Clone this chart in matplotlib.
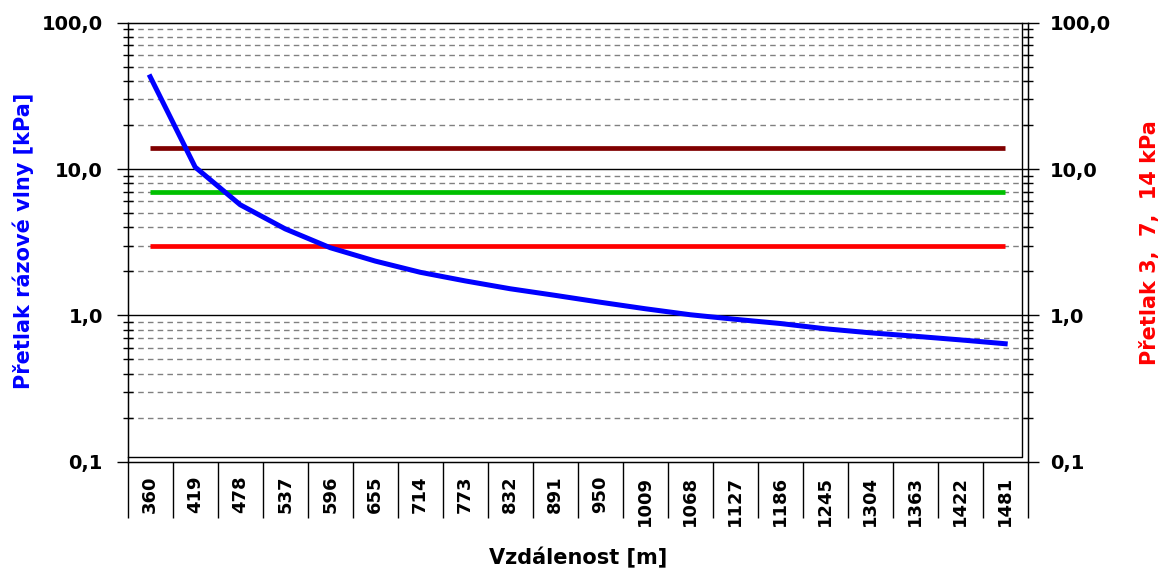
import numpy as np
import matplotlib.pyplot as plt
from matplotlib.lines import Line2D
from matplotlib.ticker import FixedLocator, FixedFormatter, NullFormatter

plt.rcParams['font.family'] = ['DejaVu Sans']
plt.rcParams['font.weight'] = 'bold'

# data
vzdalenost = ['360', '419', '478', '537', '596', '655', '714', '773', '832', '891',
              '950', '1009', '1068', '1127', '1186', '1245', '1304', '1363', '1422', '1481']
pretlak = [42.7, 10.3, 5.7, 3.9, 2.9, 2.35, 1.97, 1.72, 1.52, 1.37,
           1.23, 1.11, 1.01, 0.94, 0.88, 0.81, 0.76, 0.72, 0.68, 0.64]
limity = [14, 7, 3]
barvy_limit = ['#800000', '#00c000', '#ff0000']
y_ticks = [0.1, 1, 10, 100]
y_labels = ['0,1', '1,0', '10,0', '100,0']

fig = plt.figure(figsize=(11.73, 5.79), dpi=100)
ax = fig.add_axes([127.7 / 1173, 1 - 461.7 / 579, 900 / 1173, 439 / 579])

x = np.arange(len(vzdalenost))

# mrizka
ax.set_yscale('log')
ax.set_ylim(0.1, 100)
ax.set_xlim(-0.5, len(vzdalenost) - 0.5)
minor = [m * 10.0 ** e for e in (-1, 0, 1) for m in range(2, 10)]
for v in minor:
    ax.axhline(v, color='#808080', lw=1, ls=(0, (4, 3)), zorder=1)
for v in (1, 10):
    ax.axhline(v, color='black', lw=1, zorder=1)

# limitni hodnoty
for hodnota, barva in zip(limity, barvy_limit):
    ax.plot(x, [hodnota] * len(x), color=barva, lw=3.4, solid_capstyle='butt', zorder=3)

ax.plot(x, pretlak, color='#0000ff', lw=3.6, zorder=4)

# osa y
ax.yaxis.set_major_locator(FixedLocator(y_ticks))
ax.yaxis.set_major_formatter(FixedFormatter(y_labels))
ax.yaxis.set_minor_locator(FixedLocator(minor))
ax.yaxis.set_minor_formatter(NullFormatter())
ax.tick_params(axis='y', which='major', direction='out', length=8, width=1, pad=10, labelsize=14)
ax.tick_params(axis='y', which='minor', direction='inout', length=7, width=1)

# osa x
ax.set_xticks(x)
ax.set_xticklabels(vzdalenost, rotation=90, va='top', ha='center')
ax.set_xticks(np.arange(-0.5, len(vzdalenost)), minor=True)
ax.tick_params(axis='x', which='major', length=0, pad=10, labelsize=13)
ax.tick_params(axis='x', which='minor', direction='out', length=40, width=1)

for s in ax.spines.values():
    s.set_linewidth(1)

# ramecek plochy grafu (Excel)
xr = (1021.7 - 127.7) / 900
yb = (461.7 - 457) / 439
ax.add_line(Line2D([0, xr, xr], [yb, yb, 1], transform=ax.transAxes,
                   color='black', lw=1, clip_on=False, zorder=5))

ax.set_xlabel('Vzdálenost [m]', fontsize=15, fontweight='bold')
ax.xaxis.set_label_coords(0.5, -(547 - 461.7) / 439)
ax.set_ylabel('Přetlak rázové vlny [kPa]', fontsize=15, fontweight='bold', color='#0000ff')
ax.yaxis.set_label_coords((34 - 127.7) / 900, 0.504)

# prava osa
ax2 = ax.twinx()
ax2.set_yscale('log')
ax2.set_ylim(0.1, 100)
ax2.yaxis.set_major_locator(FixedLocator(y_ticks))
ax2.yaxis.set_major_formatter(FixedFormatter(y_labels))
ax2.yaxis.set_minor_locator(FixedLocator(minor))
ax2.yaxis.set_minor_formatter(NullFormatter())
ax2.tick_params(axis='y', which='major', direction='out', length=8, width=1, pad=8, labelsize=14)
ax2.tick_params(axis='y', which='minor', direction='inout', length=7, width=1)
ax2.set_ylabel('Přetlak 3,  7,  14 kPa', fontsize=15, fontweight='bold', color='#ff0000')
ax2.yaxis.set_label_coords((1140 - 127.7) / 900, 0.5)

fig.savefig('out.png', dpi=100)
